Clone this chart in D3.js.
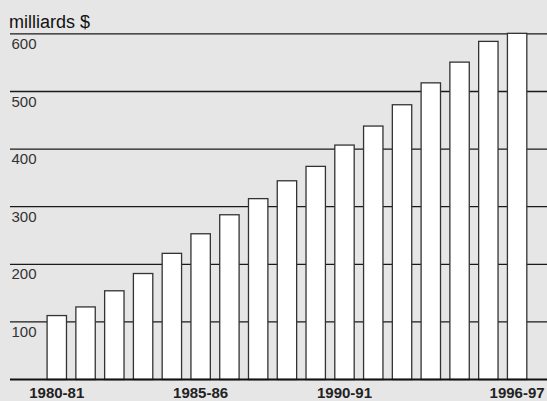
<!DOCTYPE html>
<html>
<head>
<meta charset="utf-8">
<script src="https://cdn.jsdelivr.net/npm/d3@7"></script>
<style>
  html, body { margin: 0; padding: 0; background: #e6e6e6; }
  svg { display: block; }
</style>
</head>
<body>
<svg id="chart" width="547" height="401"></svg>
<script>
// Fiscal years and amounts (billions of dollars)
const years = ["1980-81","1981-82","1982-83","1983-84","1984-85","1985-86","1986-87","1987-88",
  "1988-89","1989-90","1990-91","1991-92","1992-93","1993-94","1994-95","1995-96","1996-97"];
const amounts = [111, 126, 154, 184, 219, 253, 286, 314, 345, 370, 407, 440, 477, 515, 551, 587, 601];
const yTicks = [100, 200, 300, 400, 500, 600];
const xLabels = ["1980-81", "1985-86", "1990-91", "1996-97"];
const unitLabel = "milliards $";

const W = 547, H = 401;
const svg = d3.select("#chart");
const font = "'Liberation Sans', Arial, Helvetica, sans-serif";

svg.append("rect").attr("width", W).attr("height", H).attr("fill", "#e6e6e6");

const y = d3.scaleLinear().domain([0, 600]).range([379.5, 33.9]);
const x = d3.scaleBand().domain(years).range([42.4, 531.5]).paddingInner(0.326).paddingOuter(0.163);

// horizontal grid lines
svg.append("g").selectAll("line").data(yTicks).join("line")
  .attr("x1", 10).attr("x2", W)
  .attr("y1", d => y(d)).attr("y2", d => y(d))
  .attr("stroke", "#1a1a1a").attr("stroke-width", 1.3);

// tick labels sit just below their grid line
svg.append("g").selectAll("text").data(yTicks).join("text")
  .attr("x", 11.5).attr("y", d => y(d) + 15)
  .attr("font-family", font).attr("font-size", 15).attr("fill", "#333")
  .text(d => d);

svg.append("text").attr("x", 9).attr("y", 28.3)
  .attr("font-family", font).attr("font-size", 18).attr("fill", "#111")
  .text(unitLabel);

// bars
svg.append("g").selectAll("rect").data(amounts).join("rect")
  .attr("x", (d, i) => x(years[i]))
  .attr("width", x.bandwidth())
  .attr("y", d => y(d))
  .attr("height", d => y(0) - y(d))
  .attr("fill", "#fff")
  .attr("stroke", "#333").attr("stroke-width", 1.3);

// baseline
svg.append("line").attr("x1", 10).attr("x2", W)
  .attr("y1", y(0)).attr("y2", y(0))
  .attr("stroke", "#111").attr("stroke-width", 2);

// category labels; the last one is kept inside the right edge
svg.append("g").selectAll("text").data(xLabels).join("text")
  .attr("x", d => Math.min(x(d) + x.bandwidth() / 2, W - 29))
  .attr("y", 397.5)
  .attr("text-anchor", "middle")
  .attr("font-family", font).attr("font-size", 15).attr("font-weight", "bold").attr("fill", "#222")
  .text(d => d);
</script>
</body>
</html>
